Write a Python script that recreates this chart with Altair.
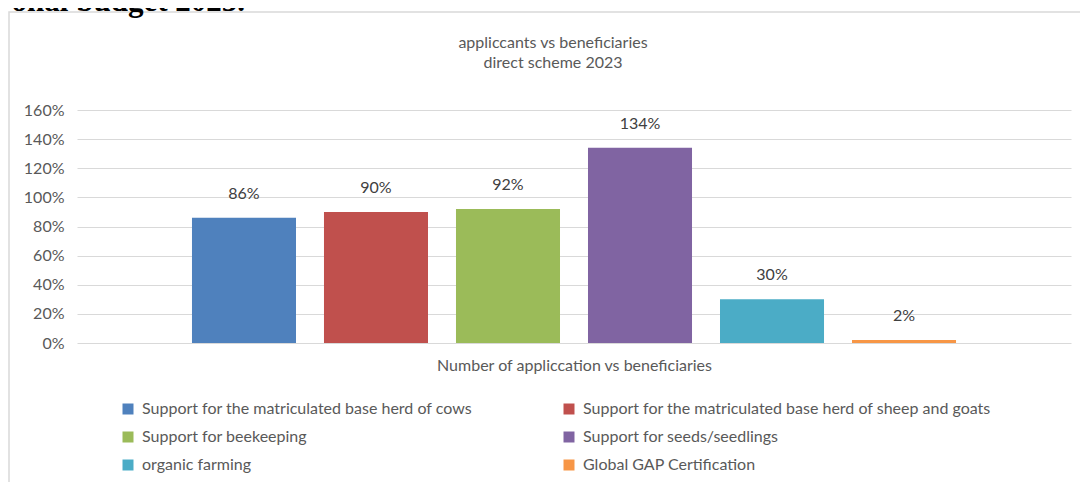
import altair as alt
import pandas as pd

categories = [
    "Support for the matriculated base herd of cows",
    "Support for the matriculated base herd of  sheep and goats",
    "Support for beekeeping",
    "Support for seeds/seedlings",
    "organic farming",
    "Global GAP Certification",
]
values = [0.86, 0.90, 0.92, 1.34, 0.30, 0.02]
colors = ["#4F81BD", "#C0504D", "#9BBB59", "#8064A2", "#4BACC6", "#F79646"]
y_ticks = [0, 0.2, 0.4, 0.6, 0.8, 1.0, 1.2, 1.4, 1.6]
title_lines = ["appliccants vs beneficiaries", "direct scheme 2023"]
x_title = "Number of appliccation vs beneficiaries"
header_text = "onal budget 2023."

FONT = "Lato"
FS = 16
df = pd.DataFrame({"cat": categories, "value": values})

x_enc = alt.X(
    "cat:N",
    sort=categories,
    scale=alt.Scale(paddingInner=0.212, paddingOuter=0.871),
    axis=alt.Axis(
        title=x_title, labels=False, ticks=False, domain=False,
        titleFontSize=FS, titleFont=FONT, titleColor="#595959",
        titleFontWeight="normal", titlePadding=14,
    ),
)
y_enc = alt.Y(
    "value:Q",
    scale=alt.Scale(domain=[0, 1.6], nice=False),
    axis=alt.Axis(
        title=None, values=y_ticks, format=".0%", ticks=False, domain=False,
        labelFontSize=FS, labelFont=FONT, labelColor="#595959", labelPadding=13,
        labelOverlap=False, gridColor="#d9d9d9", gridWidth=1.2,
    ),
)

bars = alt.Chart(df).mark_bar().encode(
    x=x_enc,
    y=y_enc,
    color=alt.Color(
        "cat:N",
        sort=categories,
        scale=alt.Scale(domain=categories, range=colors),
        legend=alt.Legend(
            title=None, orient="none", legendX=43, legendY=291, columns=2,
            direction="horizontal",
            symbolType="square", symbolSize=121, symbolStrokeWidth=0,
            labelFontSize=FS, labelFont=FONT, labelColor="#595959",
            labelLimit=600, labelOffset=6, rowPadding=12, columnPadding=88,
        ),
    ),
)

labels = alt.Chart(df).mark_text(
    dy=-24, baseline="middle", fontSize=FS, font=FONT, color="#404040"
).encode(
    x=x_enc,
    y=y_enc,
    text=alt.Text("value:Q", format=".0%"),
)

frame = alt.Chart(alt.Data(values=[{}])).mark_rect(
    fillOpacity=0, stroke="#d9d9d9", strokeWidth=1.5
).encode(
    x=alt.value(-68), x2=alt.value(1200), y=alt.value(-98), y2=alt.value(700)
)

header = alt.Chart(alt.Data(values=[{}])).mark_text(
    align="right", baseline="alphabetic", fontSize=31, font="Liberation Serif",
    fontWeight="bold", color="#000000"
).encode(
    x=alt.value(168), y=alt.value(-99), text=alt.value(header_text)
)

title_layers = []
for i, line in enumerate(title_lines):
    title_layers.append(
        alt.Chart(alt.Data(values=[{}])).mark_text(
            baseline="middle", align="center", fontSize=FS, font=FONT,
            color="#595959"
        ).encode(
            x=alt.value(476), y=alt.value(-67 + 20 * i), text=alt.value(line)
        )
    )

chart = alt.layer(frame, header, *title_layers, bars, labels).properties(
    width=994,
    height=233,
    autosize=alt.AutoSizeParams(type="none"),
    padding={"left": 69, "top": 102, "right": 9, "bottom": 139},
).configure_view(stroke=None)

chart.save("out.html", embed_options={"renderer": "svg", "actions": False})
